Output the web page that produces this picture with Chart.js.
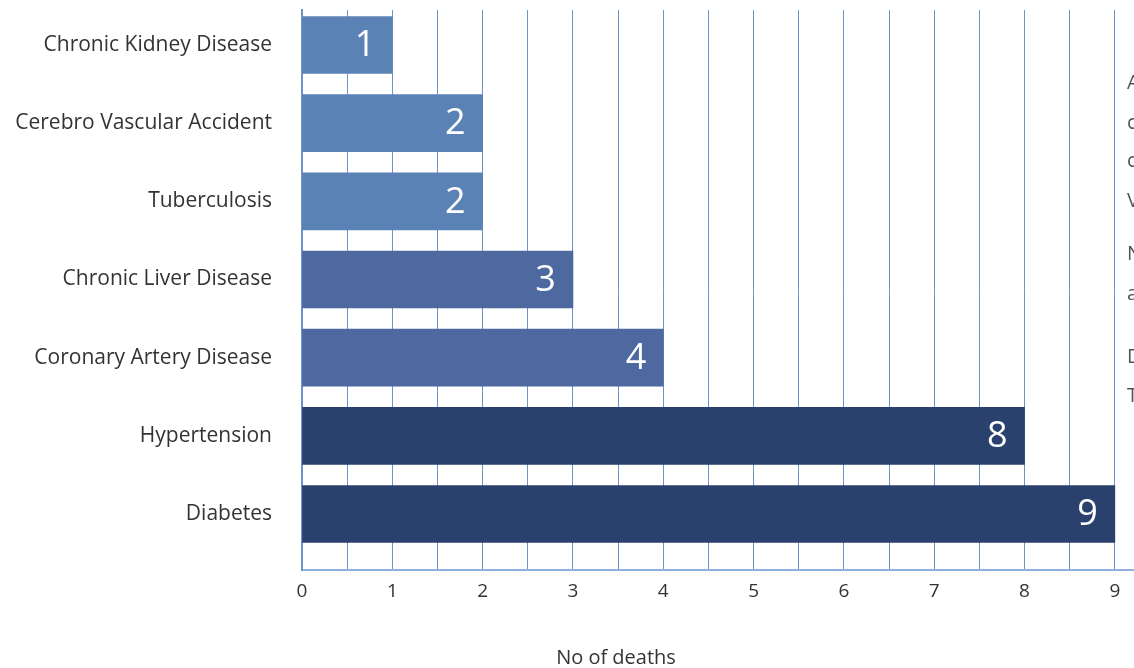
<!DOCTYPE html>
<html>
<head>
<meta charset="utf-8">
<script src="https://cdn.jsdelivr.net/npm/chart.js@4.4.1/dist/chart.umd.min.js"></script>
<style>
  html, body { margin: 0; padding: 0; background: #ffffff; overflow: hidden; width: 1134px; height: 668px; }
  #wrap { position: absolute; left: 0; top: 0; width: 1160px; height: 668px; }
  #xtitle { position: absolute; top: 643px; left: 516px; width: 200px; text-align: center;
            font-family: "Open Sans", sans-serif; font-size: 20px; color: #333; }
  #side { position: absolute; left: 1127px; top: 0; width: 40px; height: 668px;
          font-family: "Open Sans", sans-serif; font-size: 20px; color: #555; }
  #side div { position: absolute; left: 0; }
</style>
</head>
<body>
<div id="wrap"><canvas id="c"></canvas></div>
<div id="xtitle">No of deaths</div>
<div id="side">
  <div style="top:68px">A</div>
  <div style="top:108px">c</div>
  <div style="top:146px">c</div>
  <div style="top:186px">V</div>
  <div style="top:239px">N</div>
  <div style="top:279px">a</div>
  <div style="top:342px">D</div>
  <div style="top:381px">T</div>
</div>
<script>
const categories = [
  "Chronic Kidney Disease",
  "Cerebro Vascular Accident",
  "Tuberculosis",
  "Chronic Liver Disease",
  "Coronary Artery Disease",
  "Hypertension",
  "Diabetes"
];
const deaths = [1, 2, 2, 3, 4, 8, 9];
const barColors = ["#5b82b4", "#5b82b4", "#5b82b4", "#4d69a0", "#4d69a0", "#2b416d", "#2b416d"];
const xTickLabels = ["0", "1", "2", "3", "4", "5", "6", "7", "8", "9"];
const xTitle = "No of deaths";

const FONT = '"Open Sans", sans-serif';

const valueLabels = {
  id: 'valueLabels',
  afterDatasetsDraw(chart) {
    const ctx = chart.ctx;
    const meta = chart.getDatasetMeta(0);
    ctx.save();
    ctx.fillStyle = '#ffffff';
    ctx.font = '36px ' + FONT;
    ctx.textAlign = 'right';
    ctx.textBaseline = 'middle';
    meta.data.forEach((bar, i) => {
      ctx.fillText(String(chart.data.datasets[0].data[i]), bar.x - 17, bar.y + 1);
    });
    ctx.restore();
  }
};

function zeroPad(s) { s.paddingTop = 0; s.paddingBottom = 0; s.paddingLeft = 0; s.paddingRight = 0; }

new Chart(document.getElementById('c'), {
  type: 'bar',
  data: {
    labels: categories,
    datasets: [{
      data: deaths,
      backgroundColor: barColors,
      borderWidth: 0,
      barThickness: 57
    }]
  },
  options: {
    indexAxis: 'y',
    responsive: true,
    maintainAspectRatio: false,
    animation: false,
    layout: { padding: { top: 10, right: 0, left: 0, bottom: 0 } },
    plugins: { legend: { display: false }, tooltip: { enabled: false } },
    scales: {
      x: {
        type: 'linear',
        min: 0,
        max: 9.5,
        ticks: {
          stepSize: 0.5,
          padding: 10,
          color: '#333',
          font: { family: FONT, size: 19 },
          callback: (v) => Number.isInteger(v) && v <= 9 ? xTickLabels[v] : ''
        },
        grid: { color: '#6d93c9', lineWidth: 1, drawTicks: false },
        border: { color: '#8fb0de', width: 2 },
        afterFit: (s) => { s.height = 98; zeroPad(s); }
      },
      y: {
        type: 'category',
        ticks: {
          padding: 30,
          color: '#333',
          font: { family: FONT, size: 21 }
        },
        grid: { display: false, drawTicks: false },
        border: { color: '#6d93c9', width: 2 },
        afterFit: (s) => { s.width = 302; zeroPad(s); },
        afterBuildTicks: (s) => { s._startValue = -0.4477; s._valueRange = 7.164; }
      }
    }
  },
  plugins: [valueLabels]
});
</script>
</body>
</html>
